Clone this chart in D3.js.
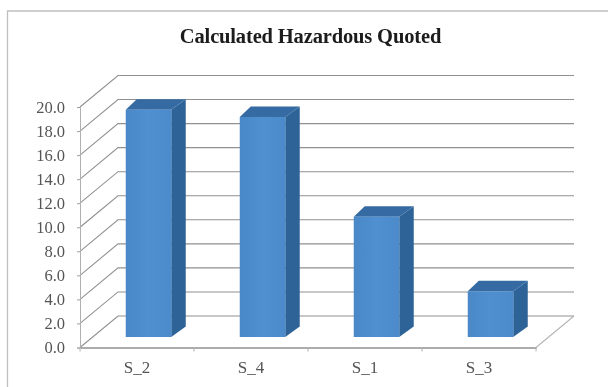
<!DOCTYPE html>
<html><head><meta charset="utf-8">
<script src="https://cdn.jsdelivr.net/npm/d3@7/dist/d3.min.js"></script>
<style>html,body{margin:0;padding:0;background:#fff}svg{display:block}</style>
</head><body><svg id="c" width="608" height="387"></svg>
<script>
const categories = ["S_2","S_4","S_1","S_3"];
const values = [18.9,18.3,10.0,3.8];
const tickValues = [0,2,4,6,8,10,12,14,16,18,20];
const titleText = "Calculated Hazardous Quoted";

const svg = d3.select("#c");
const defs = svg.append("defs");
const f = defs.append("filter").attr("id","soft").attr("x","-5%").attr("y","-5%").attr("width","110%").attr("height","110%");
f.append("feGaussianBlur").attr("stdDeviation",0.6);
const g0 = defs.append("linearGradient").attr("id","front");
g0.append("stop").attr("offset","0").attr("stop-color","#4a88c8");
g0.append("stop").attr("offset","0.5").attr("stop-color","#5090d0");
g0.append("stop").attr("offset","1").attr("stop-color","#4c8acb");

const root = svg.append("g").attr("filter","url(#soft)");
root.append("path").attr("d",d3.line()([[7.5,392],[7.5,11],[640,11]])).attr("fill","none").attr("stroke","#c0c0c0").attr("stroke-width",1.3);

const x = d3.scaleBand().domain(categories).range([80,536]).paddingInner(0).paddingOuter(0);
const y = d3.scaleLinear().domain([0,20]).range([347.5,107]);
const wallDx = 38, wallDy = 31.5;
const barDxL = 11, barDxR = 14.5, barDy = 10.5, barLift = 10.5, barShift = 11.5, barW = 45.5;
const gridColor = "#909090";

const grid = root.append("g").attr("fill","none").attr("stroke",gridColor).attr("stroke-width",1.1);
tickValues.forEach(t=>{
  grid.append("path").attr("d",d3.line()([[x.range()[0],y(t)],[x.range()[0]+wallDx,y(t)-wallDy],[x.range()[1]+wallDx,y(t)-wallDy]]));
});
grid.append("path").attr("d",d3.line()([[x.range()[1],y(0)],[x.range()[1]+wallDx,y(0)-wallDy]])).attr("stroke","#b5b5b5");

const yAxis = root.append("g").attr("transform","translate(80,0)").call(d3.axisLeft(y).tickValues(tickValues).tickFormat(d3.format(".1f")).tickSize(3).tickPadding(3));
yAxis.select(".domain").attr("stroke","#b0b0b0");
yAxis.selectAll("line").attr("stroke","#a0a0a0");
yAxis.selectAll("text").attr("font-family","'Liberation Serif'").attr("font-size",16.5).attr("fill","#555").attr("dx",-9);

const xAxis = root.append("g").attr("transform",`translate(0,${y(0)})`).call(d3.axisBottom(x).tickSize(0).tickPadding(13));
xAxis.select(".domain").attr("stroke","#909090").attr("stroke-width",1.3);
xAxis.selectAll("text").attr("font-family","'Liberation Serif'").attr("font-size",17).attr("fill","#555");
root.append("g").selectAll("line").data(d3.range(categories.length+1)).join("line")
  .attr("x1",i=>x.range()[0]+i*x.step()).attr("x2",i=>x.range()[0]+i*x.step())
  .attr("y1",y(0)).attr("y2",y(0)+4).attr("stroke","#b0b0b0");

const bars = root.append("g").selectAll("g").data(categories.map((c,i)=>({c,v:values[i]}))).join("g");
const L = d=>x(d.c)+x.step()/2+barShift-barW/2, R = d=>L(d)+barW;
const T = d=>y(d.v)-barLift, B = ()=>y(0)-barLift;
bars.append("path").attr("fill","#2f6498").attr("d",d=>d3.line()([[R(d),T(d)],[R(d)+barDxR,T(d)-barDy],[R(d)+barDxR,B()-barDy],[R(d),B()]])+"Z");
bars.append("path").attr("fill","#356ba3").attr("d",d=>d3.line()([[L(d),T(d)],[L(d)+barDxL,T(d)-barDy],[R(d)+barDxR,T(d)-barDy],[R(d),T(d)]])+"Z");
bars.append("rect").attr("fill","url(#front)").attr("x",L).attr("y",T).attr("width",barW).attr("height",d=>B()-T(d));

root.append("text").attr("x",310.5).attr("y",42.5).attr("text-anchor","middle")
  .attr("font-family","'Liberation Serif'").attr("font-weight","bold").attr("font-size",20.5)
  .attr("letter-spacing",-0.15).attr("fill","#1a1a1a").text(titleText);
</script></body></html>
